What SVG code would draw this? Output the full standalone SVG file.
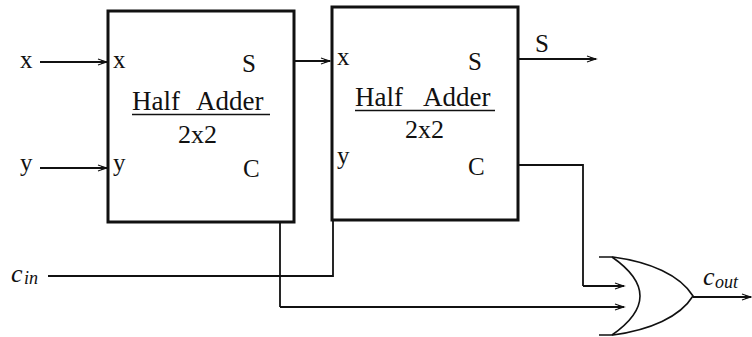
<svg xmlns="http://www.w3.org/2000/svg" width="752" height="337" viewBox="0 0 752 337">
<style>
.box{fill:#fff;stroke:#111;stroke-width:3}
.wire{fill:none;stroke:#111;stroke-width:1.8}
.arr{fill:none;stroke:#111;stroke-width:1.8;marker-end:url(#ah)}
.gate{fill:none;stroke:#111;stroke-width:1.6}
.ul{stroke:#111;stroke-width:1.5}
</style>
<defs>
<marker id="ah" markerUnits="userSpaceOnUse" markerWidth="14" markerHeight="10" viewBox="-11 -5 12 10" refX="0" refY="0" orient="auto" overflow="visible">
<path d="M-9,-3 Q-5,-1.5 0,0 Q-5,1.5 -9,3" fill="none" stroke="#111" stroke-width="1.1"/>
<path d="M-6,-2 L0,0 L-6,2 Z" fill="#111"/>
</marker>
</defs>
<rect width="752" height="337" fill="#fff"/>
<g id="connectors">
<path class="arr" d="M40,62 L107,62"/>
<path class="arr" d="M40,168 L107,168"/>
<path class="arr" d="M266,61 L330,61"/>
<path class="arr" d="M488,59 L596,59"/>
<path class="wire" d="M268,168 L280,168 L280,307"/>
<path class="arr" d="M280,307 L624,307"/>
<path class="wire" d="M492,165 L583,165 L583,286"/>
<path class="arr" d="M583,286 L624,286"/>
<path class="wire" d="M48,276 L333,276 L333,220"/>
<path class="arr" d="M693,297 L751,297"/>
</g>
<g font-family="Liberation Serif, serif" font-size="25" fill="#111">
<g id="in-x"><text x="20" y="68">x</text></g>
<g id="in-y"><text x="20" y="171">y</text></g>
<g id="in-cin"><text font-style="italic" font-size="26" x="11" y="282">c</text><text font-style="italic" font-size="18" x="24" y="284">in</text></g>
<g id="ha1">
<rect class="box" x="108" y="11" width="186" height="211"/>
<text x="113" y="68">x</text>
<text x="242" y="72">S</text>
<text x="132" y="110" font-size="27">Half</text>
<text x="196" y="110" font-size="27">Adder</text>
<line class="ul" x1="132" y1="114.5" x2="270" y2="114.5"/>
<text x="178" y="143" font-size="26">2x2</text>
<text x="113" y="171">y</text>
<text x="243" y="177">C</text>
</g>
<g id="ha2">
<rect class="box" x="332" y="7" width="186" height="213"/>
<text x="337" y="65">x</text>
<text x="468" y="70">S</text>
<text x="355" y="106" font-size="27">Half</text>
<text x="423" y="106" font-size="27">Adder</text>
<line class="ul" x1="355" y1="110.5" x2="495" y2="110.5"/>
<text x="405" y="138" font-size="26">2x2</text>
<text x="337" y="164">y</text>
<text x="468" y="175">C</text>
</g>
<g id="out-s"><text x="535" y="52">S</text></g>
<g id="orgate">
<path class="gate" d="M599,257 L613,257 C650,262 680,275 693,296 C680,317 650,330 613,335 L599,335"/>
<path class="gate" d="M612,257 Q668,296 612,335"/>
</g>
<g id="out-cout"><text font-style="italic" font-size="26" x="703" y="285">c</text><text font-style="italic" font-size="18" x="715" y="288">out</text></g>
</g>
</svg>
